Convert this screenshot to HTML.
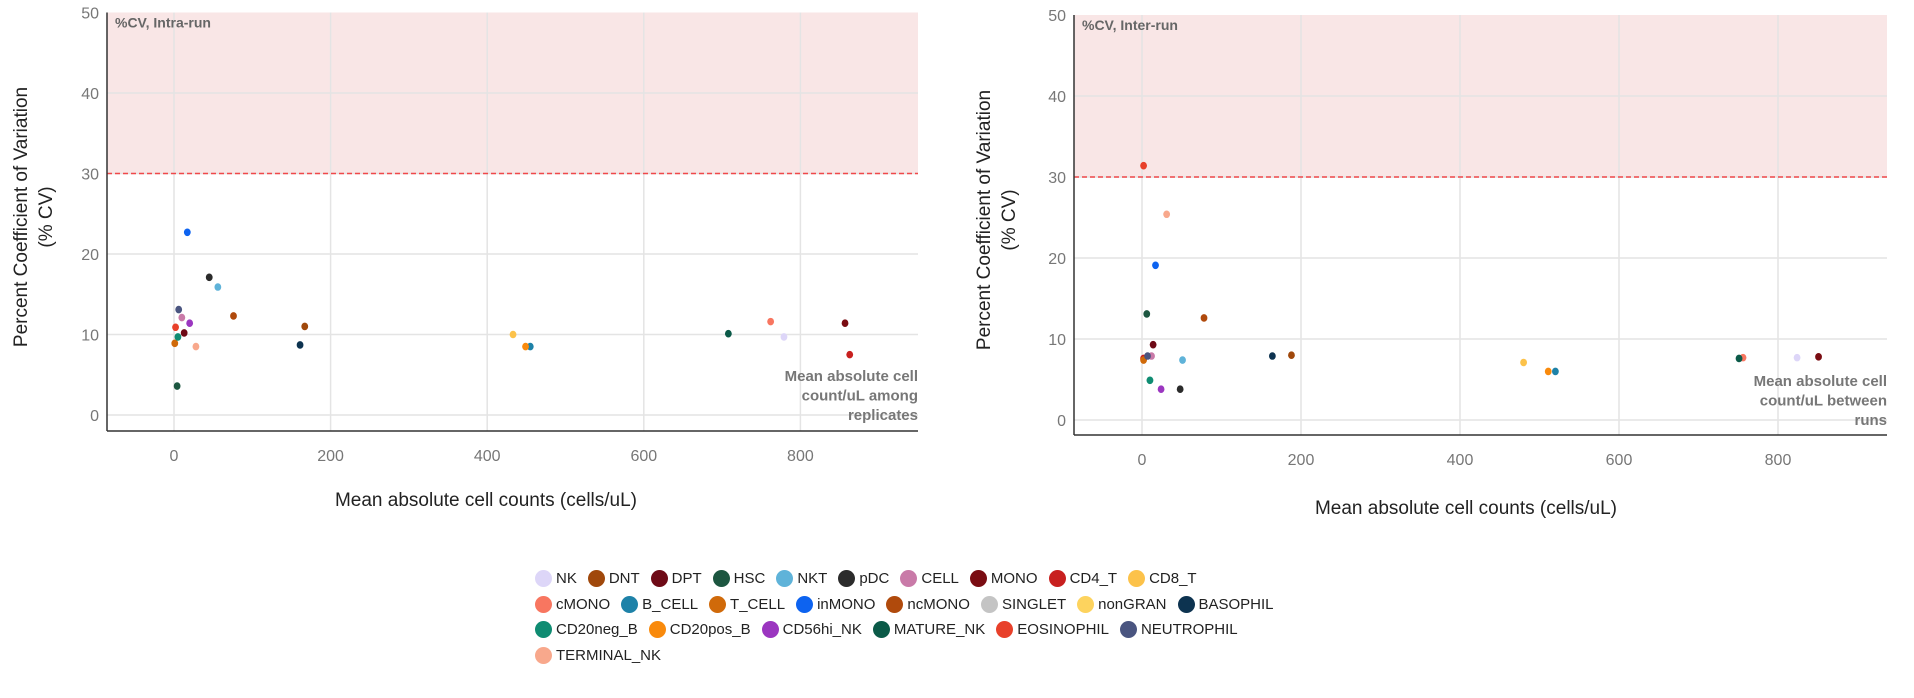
<!DOCTYPE html>
<html><head><meta charset="utf-8">
<style>
body{margin:0;background:#fff;width:1914px;height:698px;overflow:hidden;font-family:"Liberation Sans",sans-serif;}
svg{position:absolute;left:0;top:0}
.legend{position:absolute;left:535px;top:566px;font-size:15px;color:#222}
.row{display:flex;height:25.5px;align-items:center}
.it{display:flex;align-items:center;margin-right:11px}
.dot{width:17px;height:17px;border-radius:50%;margin-right:4px}
</style></head><body>
<svg id="chart" width="1914" height="698"></svg>
<div class="legend" id="legend"></div>
<script>
const names=["NK","DNT","DPT","HSC","NKT","pDC","CELL","MONO","CD4_T","CD8_T","cMONO","B_CELL","T_CELL","inMONO","ncMONO","SINGLET","nonGRAN","BASOPHIL","CD20neg_B","CD20pos_B","CD56hi_NK","MATURE_NK","EOSINOPHIL","NEUTROPHIL","TERMINAL_NK"];
const colors=["#ddd6f8","#a0480b","#6e0a16","#1c5640","#5fb3d9","#2b2b2b","#c97aa8","#7a0c12","#c8201f","#fcc24a","#f87660","#1e82a8","#d06a0a","#0d63f0","#b04a0c","#c4c4c4","#fdd35e","#0d3350","#0f8c72","#f98a0c","#9b36c0","#0b5a48","#e8402a","#4a5580","#f8a88c"];
const rowBreaks=[10,18,24];
// intra-run (left) values, null = not visible
const intraX=[779,167,13,4,56,45,10,857,863,433,762,455,1,17,76,null,null,161,5,449,20,708,2,6,28];
const intraY=[9.7,11.0,10.2,3.6,15.9,17.1,12.1,11.4,7.5,10.0,11.6,8.5,8.9,22.7,12.3,null,null,8.7,9.7,8.5,11.4,10.1,10.9,13.1,8.5];
// inter-run (right) values
const interX=[824,188,14,6,51,48,12,851,2,480,756,520,2,17,78,null,null,164,10,511,24,751,2,7,31];
const interY=[7.7,8.0,9.3,13.1,7.4,3.8,7.9,7.8,7.6,7.1,7.7,6.0,7.4,19.1,12.6,null,null,7.9,4.9,6.0,3.8,7.6,31.4,7.9,25.4];
const xTicks=[0,200,400,600,800];
const yTicks=[0,10,20,30,40,50];
const threshold=30;

const NS="http://www.w3.org/2000/svg";
const svg=document.getElementById('chart');
function el(tag,attrs,parent,text){const e=document.createElementNS(NS,tag);for(const k in attrs)e.setAttribute(k,attrs[k]);if(text!==undefined)e.textContent=text;(parent||svg).appendChild(e);return e;}

function drawChart(cfg){
  const g=el('g',{});
  
  
  const sx=v=>cfg.x0+v*cfg.kx, sy=v=>cfg.y0-v*cfg.ky;
  const top=sy(50);
  // pink band
  const band=el('rect',{x:cfg.left,y:top,width:cfg.right-cfg.left,height:sy(threshold)-top,fill:'#f9e6e6'},g);
  
  
  // grid
  xTicks.forEach(t=>{
    el('line',{x1:sx(t),x2:sx(t),y1:top,y2:cfg.axisY,stroke:'#e4e4e4','stroke-width':1.5},g);
    const lb=el('text',{x:sx(t),y:cfg.axisY+30,'text-anchor':'middle','font-size':16,fill:'#777'},g,t);
    
    
  });
  yTicks.forEach(t=>{
    if(t<50) el('line',{x1:cfg.left,x2:cfg.right,y1:sy(t),y2:sy(t),stroke:'#e4e4e4','stroke-width':1.5},g);
    const lb=el('text',{x:cfg.left-8,y:sy(t)+6,'text-anchor':'end','font-size':16,fill:'#777'},g,t);
    
    
  });
  // threshold line
  const th=el('line',{x1:cfg.left,x2:cfg.right,y1:sy(threshold),y2:sy(threshold),stroke:'#f0484a','stroke-width':1.6,'stroke-dasharray':'5,3'},g);
  
  
  // axes
  el('line',{x1:cfg.left,x2:cfg.left,y1:top,y2:cfg.axisY,stroke:'#333','stroke-width':1.5},g);
  el('line',{x1:cfg.left,x2:cfg.right,y1:cfg.axisY,y2:cfg.axisY,stroke:'#333','stroke-width':1.5},g);
  // points
  cfg.xs.forEach((xv,i)=>{
    if(xv===null||cfg.ys[i]===null)return;
    const c=el('ellipse',{cx:sx(xv),cy:sy(cfg.ys[i]),rx:3.4,ry:3.8,fill:colors[i]},g);
    
    
  });
  // annotations
  const a1=el('text',{x:cfg.left+8,y:top+15,'font-size':14,'font-weight':'bold',fill:'#666'},g,cfg.corner);
  
  
  cfg.note.forEach((s,k)=>{
    const t=el('text',{x:cfg.right,y:cfg.noteY+k*19.5,'text-anchor':'end','font-size':15,'font-weight':'bold',fill:'#777'},g,s);
    
    
  });
  const xt=el('text',{x:cfg.xtX,y:cfg.xtY,'text-anchor':'middle','font-size':19,fill:'#222'},g,'Mean absolute cell counts (cells/uL)');
  
  
  const yt=el('text',{transform:`translate(${cfg.ytX},${cfg.ytY}) rotate(-90)`,'text-anchor':'middle','font-size':19,fill:'#222'},g);
  
  
  el('tspan',{x:0,dy:0},yt,'Percent Coefficient of Variation');
  el('tspan',{x:0,dy:25},yt,'(% CV)');
}
drawChart({id:'intra-run-chart',left:107,right:918,x0:174,kx:0.783,y0:415,ky:8.05,axisY:431,xs:intraX,ys:intraY,
  corner:'%CV, Intra-run',note:['Mean absolute cell','count/uL among','replicates'],noteY:381,xtX:486,xtY:506,ytX:27,ytY:217});
drawChart({id:'inter-run-chart',left:1074,right:1887,x0:1142,kx:0.795,y0:420,ky:8.1,axisY:435,xs:interX,ys:interY,
  corner:'%CV, Inter-run',note:['Mean absolute cell','count/uL between','runs'],noteY:386,xtX:1466,xtY:514,ytX:990,ytY:220});

const leg=document.getElementById('legend');
let row=null;
names.forEach((n,i)=>{
  if(i===0||rowBreaks.includes(i)){row=document.createElement('div');row.className='row';leg.appendChild(row);}
  const it=document.createElement('div');it.className='it';
  
  
  const d=document.createElement('span');d.className='dot';d.style.background=colors[i];
  it.appendChild(d);it.appendChild(document.createTextNode(n));row.appendChild(it);
});
</script>
</body></html>
